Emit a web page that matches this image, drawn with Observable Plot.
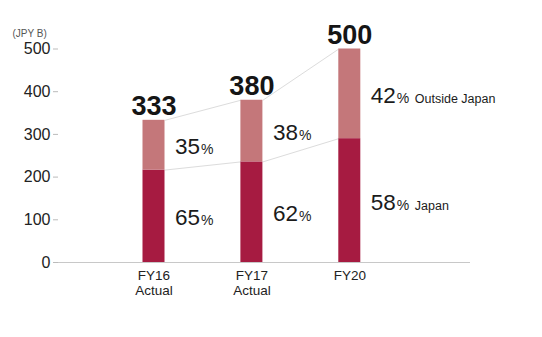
<!DOCTYPE html>
<html>
<head>
<meta charset="utf-8">
<script src="https://cdn.jsdelivr.net/npm/d3@7"></script>
<script src="https://cdn.jsdelivr.net/npm/@observablehq/plot@0.6"></script>
<style>
  html, body { margin: 0; padding: 0; background: #fff; }
  #chart { width: 542px; height: 337px; }
</style>
</head>
<body>
<div id="chart"></div>
<script>
const years = ["FY16", "FY17", "FY20"];
const yearNotes = ["Actual", "Actual", ""];
const totals = [333, 380, 500];
const japanShare = [65, 62, 58];
const outsideShare = [35, 38, 42];
const segmentNames = ["Japan", "Outside Japan"];
const segmentColors = ["#a61b41", "#c4777a"];
const yTicks = [0, 100, 200, 300, 400, 500];
const unitLabel = "(JPY B)";

const HW = 0.1124; // half bar width in index units
const FONT = "'Liberation Sans', Arial, Helvetica, sans-serif";

const rows = years.flatMap((year, i) => {
  const jp = totals[i] * japanShare[i] / 100;
  return [
    {i, year, segment: segmentNames[0], pct: japanShare[i], lo: 0, hi: jp},
    {i, year, segment: segmentNames[1], pct: outsideShare[i], lo: jp, hi: totals[i]}
  ];
});
const links = [];
for (let k = 0; k < years.length - 1; k++) {
  links.push({from: k, to: k + 1, a: totals[k], b: totals[k + 1]});
  links.push({from: k, to: k + 1, a: totals[k] * japanShare[k] / 100, b: totals[k + 1] * japanShare[k + 1] / 100});
}
const totalRows = years.map((year, i) => ({i, total: totals[i]}));
const last = years.length - 1;
const mid = d => (d.lo + d.hi) / 2;

const chart = Plot.plot({
  width: 542,
  height: 337,
  marginLeft: 58,
  marginRight: 72,
  marginTop: 20,
  marginBottom: 75,
  style: {fontFamily: FONT, background: "#fff", overflow: "visible"},
  x: {domain: [0, 2], range: [153.5, 349.3], axis: null},
  y: {domain: [0, 500], range: [262, 48.5], axis: null},
  color: {domain: segmentNames, range: segmentColors},
  marks: [
    Plot.axisY({ticks: yTicks, tickSize: 5, tickPadding: 3, stroke: "#bbb", fontSize: 16, fill: "#222", label: null}),
    Plot.ruleY([0], {stroke: "#c8c8c8", strokeWidth: 1}),
    Plot.link(links, {x1: d => d.from + HW, y1: "a", x2: d => d.to - HW, y2: "b", stroke: "#dcdcdc", strokeWidth: 1}),
    Plot.rect(rows, {x1: d => d.i - HW, x2: d => d.i + HW, y1: "lo", y2: "hi", fill: "segment"}),
    Plot.axisX({ticks: [0, 1, 2], tickSize: 0, tickPadding: 7, fontSize: 13.5, lineHeight: 1.1, fill: "#222", label: null,
      tickFormat: i => years[i] + (yearNotes[i] ? "\n" + yearNotes[i] : "")}),
    Plot.text(totalRows, {x: "i", y: "total", text: d => String(d.total), fontSize: 27, fontWeight: "bold", fill: "#151515", lineAnchor: "bottom", dy: -5}),
    Plot.text(rows, {x: d => d.i + HW, y: mid, text: d => String(d.pct), textAnchor: "start", dx: 10, dy: 2, fontSize: 22.5, fill: "#1b1b1b"}),
    Plot.text(rows, {x: d => d.i + HW, y: mid, text: () => "%", textAnchor: "start", dx: 36, dy: 4.6, fontSize: 14, fill: "#1b1b1b"}),
    Plot.text(rows.filter(d => d.i === last), {x: d => d.i + HW, y: mid, text: "segment", textAnchor: "start", dx: 54, dy: 5, fontSize: 12.5, fill: "#1b1b1b"}),
    Plot.text([unitLabel], {frameAnchor: "top-left", text: d => d, textAnchor: "start", dx: -46, dy: 9, fontSize: 10, fill: "#555"})
  ]
});
document.getElementById("chart").append(chart);
</script>
</body>
</html>
